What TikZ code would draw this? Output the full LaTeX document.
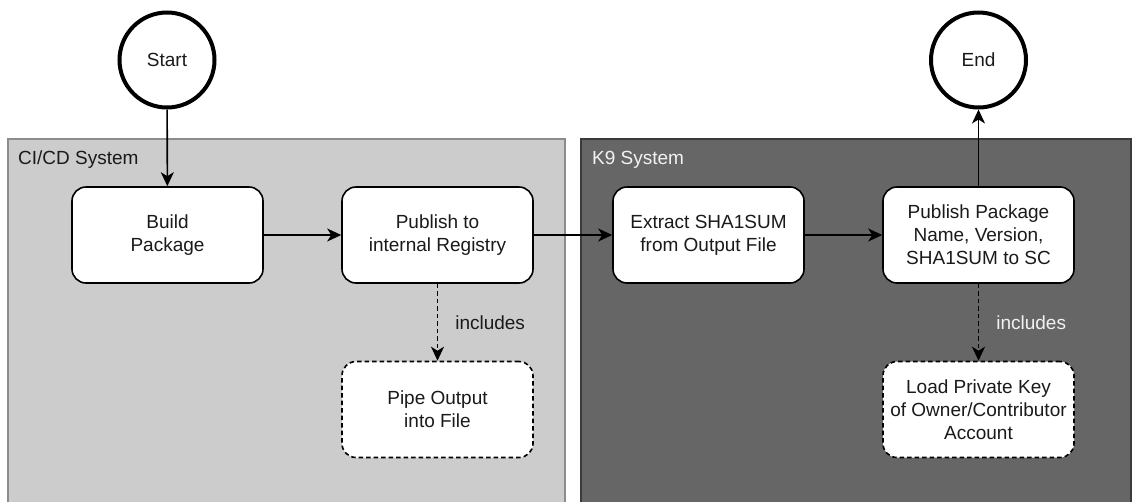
\documentclass[tikz,border=0pt]{standalone}
\usepackage{fontspec}
\setmainfont{Liberation Sans}
\usetikzlibrary{arrows.meta}
\definecolor{cicdfill}{HTML}{CCCCCC}
\definecolor{cicdline}{HTML}{8C8C8C}
\definecolor{kfill}{HTML}{666666}
\definecolor{kline}{HTML}{3A3A3A}
\definecolor{lighttext}{HTML}{F2F2F2}
\definecolor{ink}{HTML}{1A1A1A}

\begin{document}
\begin{tikzpicture}[x=1pt,y=-1pt,
  font=\fontsize{19}{23}\selectfont,
  stepbox/.style={draw=black, fill=white, line width=1.6pt, rounded corners=14pt,
    minimum width=191pt, minimum height=96pt, align=center, inner sep=0pt, text=ink},
  subbox/.style={stepbox, dash pattern=on 4.5pt off 3pt},
  terminal/.style={circle, draw=black, fill=white, line width=4pt,
    minimum size=95pt, inner sep=0pt, text=ink},
  flow/.style={draw=black, line width=1.6pt, -{Stealth[length=14pt,width=13pt,inset=4pt]}},
  subflow/.style={flow, dash pattern=on 4.5pt off 3pt},
  lanelabel/.style={anchor=west, inner sep=0pt},
]
\clip (0,0) rectangle (1132,501);
\fill[white] (0,0) rectangle (1132,501);

% swimlanes
\filldraw[fill=cicdfill, draw=cicdline, line width=1.2pt] (8,139) rectangle (565,520);
\filldraw[fill=kfill, draw=kline, line width=1.2pt] (581,139) rectangle (1131,520);
\node[lanelabel, text=ink] (lanecicd) at (18,160) {CI/CD System};
\node[lanelabel, text=lighttext] (lanek9) at (592,160) {K9 System};

% terminals
\node[terminal] (start) at (167,60) {Start};
\node[terminal] (end) at (978.5,60) {End};

% process steps
\node[stepbox] (build) at (167.5,235) {Build\\Package};
\node[stepbox] (publish) at (437.5,235) {Publish to\\internal Registry};
\node[stepbox] (extract) at (708.5,235) {Extract SHA1SUM\\from Output File};
\node[stepbox] (pubpkg) at (978.5,235) {Publish Package\\Name, Version,\\SHA1SUM to SC};

% included sub-steps
\node[subbox] (pipe) at (437.5,409.5) {Pipe Output\\into File};
\node[subbox] (loadkey) at (978.5,409.5) {Load Private Key\\of Owner/Contributor\\Account};

% connectors
\draw[flow] (start) -- (build);
\draw[flow] (build) -- (publish);
\draw[flow] (publish) -- (extract);
\draw[flow] (extract) -- (pubpkg);
\draw[flow] (pubpkg) -- (end);
\draw[subflow] (publish) -- (pipe)
  node[midway, anchor=west, xshift=17pt, text=ink, inner sep=0pt] (inclA) {includes};
\draw[subflow] (pubpkg) -- (loadkey)
  node[midway, anchor=west, xshift=17pt, text=lighttext, inner sep=0pt] (inclB) {includes};
\end{tikzpicture}
\end{document}
